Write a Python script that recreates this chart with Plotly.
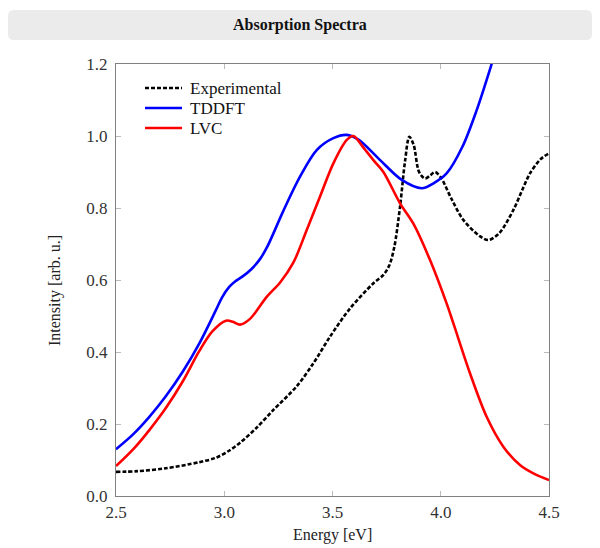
import plotly.graph_objects as go

# Experimental spectrum
exp_x = [2.5, 2.6, 2.73, 2.885, 2.96, 3.02, 3.073, 3.15, 3.227, 3.335, 3.411, 3.488, 3.581, 3.689, 3.735, 3.762, 3.785, 3.812, 3.835, 3.855, 3.875, 3.9, 3.927, 3.95, 3.973, 4.0, 4.05, 4.104, 4.18, 4.22, 4.27, 4.335, 4.38, 4.412, 4.46, 4.5]
exp_y = [0.067, 0.069, 0.077, 0.094, 0.106, 0.125, 0.148, 0.19, 0.239, 0.305, 0.368, 0.442, 0.521, 0.591, 0.614, 0.64, 0.69, 0.804, 0.93, 0.998, 0.975, 0.9, 0.882, 0.89, 0.90, 0.885, 0.825, 0.767, 0.722, 0.711, 0.73, 0.794, 0.855, 0.896, 0.935, 0.952]

# TDDFT spectrum
tddft_x = [2.5, 2.58, 2.654, 2.73, 2.808, 2.885, 2.962, 2.99, 3.023, 3.05, 3.085, 3.125, 3.165, 3.2, 3.273, 3.35, 3.427, 3.504, 3.566, 3.62, 3.72, 3.82, 3.912, 3.97, 4.027, 4.1, 4.166, 4.235, 4.26]
tddft_y = [0.13, 0.172, 0.22, 0.277, 0.345, 0.424, 0.517, 0.552, 0.581, 0.596, 0.61, 0.63, 0.658, 0.694, 0.792, 0.887, 0.961, 0.994, 1.003, 0.99, 0.933, 0.878, 0.855, 0.87, 0.896, 0.97, 1.072, 1.2, 1.25]

# LVC spectrum
lvc_x = [2.5, 2.58, 2.654, 2.731, 2.808, 2.885, 2.946, 3.008, 3.04, 3.073, 3.119, 3.196, 3.258, 3.319, 3.381, 3.442, 3.504, 3.566, 3.596, 3.64, 3.689, 3.735, 3.812, 3.873, 3.95, 4.027, 4.058, 4.135, 4.212, 4.289, 4.366, 4.43, 4.5]
lvc_y = [0.083, 0.13, 0.183, 0.245, 0.318, 0.403, 0.458, 0.487, 0.484, 0.476, 0.492, 0.553, 0.593, 0.648, 0.739, 0.831, 0.924, 0.989, 1.0, 0.97, 0.933, 0.9, 0.813, 0.757, 0.656, 0.535, 0.48, 0.341, 0.22, 0.137, 0.086, 0.062, 0.044]

series_names = ["Experimental", "TDDFT", "LVC"]
x_ticks = [2.5, 3.0, 3.5, 4.0, 4.5]
y_ticks = [0.0, 0.2, 0.4, 0.6, 0.8, 1.0, 1.2]

FONT = "Liberation Serif"
styles = [dict(color="black", width=2.6, dash="4px,2px"),
          dict(color="#0000ff", width=2.6, dash="solid"),
          dict(color="#ff0000", width=2.6, dash="solid")]

fig = go.Figure()
for (xs, ys), name, st in zip([(exp_x, exp_y), (tddft_x, tddft_y), (lvc_x, lvc_y)], series_names, styles):
    fig.add_trace(go.Scatter(x=xs, y=ys, mode="lines", name=name, showlegend=False,
                             line=dict(color=st["color"], width=st["width"], dash=st["dash"],
                                       shape="spline", smoothing=0.9)))

L, R, T, B = 116, 549, 64, 496
W, H = 600, 548
pw, ph = R - L, B - T

def px2x(p):
    return (p - L) / pw

def py2y(p):
    return (B - p) / ph

# rounded title box
x0, x1, y0, y1 = px2x(8), px2x(592), py2y(40), py2y(10)
rx, ry = 6 / pw, 6 / ph
path = (f"M {x0+rx},{y1} L {x1-rx},{y1} Q {x1},{y1} {x1},{y1-ry} "
        f"L {x1},{y0+ry} Q {x1},{y0} {x1-rx},{y0} L {x0+rx},{y0} "
        f"Q {x0},{y0} {x0},{y0+ry} L {x0},{y1-ry} Q {x0},{y1} {x0+rx},{y1} Z")

shapes = [dict(type="path", path=path, xref="paper", yref="paper",
               fillcolor="#ebebeb", line=dict(width=0), layer="below")]
annotations = [
    dict(text="<b>Absorption Spectra</b>", xref="paper", yref="paper",
         x=px2x(300), y=py2y(25), xanchor="center", yanchor="middle",
         showarrow=False, font=dict(family=FONT, size=16, color="#111")),
    dict(text="Energy [eV]", xref="paper", yref="paper",
         x=px2x(332), y=py2y(535), xanchor="center", yanchor="middle",
         showarrow=False, font=dict(family=FONT, size=16, color="#222")),
    dict(text="Intensity [arb. u.]", xref="paper", yref="paper", textangle=-90,
         x=px2x(55), y=py2y(290), xanchor="center", yanchor="middle",
         showarrow=False, font=dict(family=FONT, size=16, color="#222")),
]

# legend (drawn manually for tighter row spacing)
for i, (name, st) in enumerate(zip(series_names, styles)):
    yy = py2y(88 + 20 * i)
    shapes.append(dict(type="line", xref="paper", yref="paper",
                       x0=px2x(145), x1=px2x(182), y0=yy, y1=yy,
                       line=dict(color=st["color"], width=2.6, dash=st["dash"])))
    annotations.append(dict(text=name, xref="paper", yref="paper", x=px2x(188), y=yy,
                            xanchor="left", yanchor="middle", showarrow=False,
                            font=dict(family=FONT, size=17, color="#111")))

fig.update_layout(
    width=W, height=H,
    margin=dict(l=L, r=W - R, t=T, b=H - B, autoexpand=False),
    paper_bgcolor="white", plot_bgcolor="white",
    font=dict(family=FONT, size=16, color="#222"),
    showlegend=False,
    shapes=shapes,
    annotations=annotations,
)
fig.update_xaxes(range=[2.5, 4.5], tickvals=x_ticks, tickformat=".1f",
                 ticks="inside", ticklen=5, tickcolor="#bbbbbb", mirror="ticks",
                 showline=True, linecolor="#808080", linewidth=1, showgrid=False, zeroline=False,
                 ticklabelstandoff=1, automargin=False,
                 tickfont=dict(family=FONT, size=17, color="#333"))
fig.update_yaxes(range=[0.0, 1.2], tickvals=y_ticks, tickformat=".1f",
                 ticks="inside", ticklen=5, tickcolor="#bbbbbb", mirror="ticks",
                 showline=True, linecolor="#808080", linewidth=1, showgrid=False, zeroline=False,
                 ticklabelstandoff=4, automargin=False,
                 tickfont=dict(family=FONT, size=17, color="#333"))

fig.write_html("out.html")
